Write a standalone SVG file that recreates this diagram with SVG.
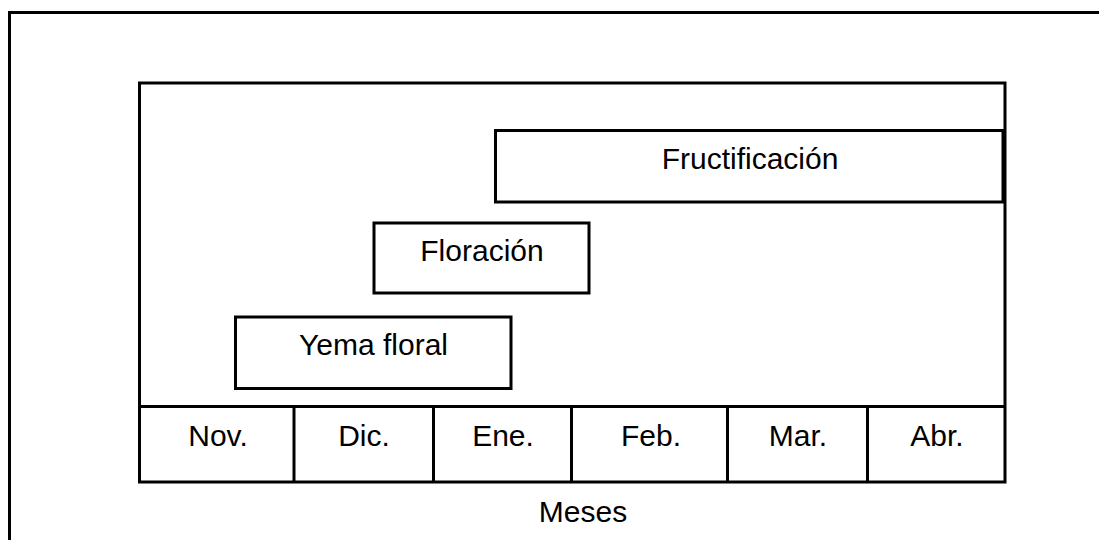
<svg xmlns="http://www.w3.org/2000/svg" width="1099" height="540" viewBox="0 0 1099 540">
<style>
.ln{fill:none;stroke:#000;stroke-width:3}
.bx{fill:#fff;stroke:#000;stroke-width:3}
.t{font-family:"Liberation Sans",Arial,sans-serif;font-size:30px;fill:#000;text-anchor:middle}
</style>
<rect width="1099" height="540" fill="#fff"/>
<g id="frame">
<polyline class="ln" points="9.5,540 9.5,12.5 1099,12.5"/>
<rect class="ln" x="139.5" y="83" width="865.5" height="399"/>
</g>
<g id="months">
<line class="ln" x1="139.5" y1="406.5" x2="1005" y2="406.5"/>
<line class="ln" x1="294" y1="406.5" x2="294" y2="482"/>
<line class="ln" x1="433.5" y1="406.5" x2="433.5" y2="482"/>
<line class="ln" x1="571.5" y1="406.5" x2="571.5" y2="482"/>
<line class="ln" x1="727.5" y1="406.5" x2="727.5" y2="482"/>
<line class="ln" x1="867.5" y1="406.5" x2="867.5" y2="482"/>
<text class="t" x="218" y="446">Nov.</text>
<text class="t" x="364" y="446">Dic.</text>
<text class="t" x="503" y="446">Ene.</text>
<text class="t" x="651" y="446">Feb.</text>
<text class="t" x="798" y="446">Mar.</text>
<text class="t" x="937" y="446">Abr.</text>
<text class="t" x="583" y="522">Meses</text>
</g>
<g id="fructificacion">
<rect class="bx" x="495.5" y="130.5" width="507.5" height="71.5"/>
<text class="t" x="750" y="168.5">Fructificación</text>
</g>
<g id="floracion">
<rect class="bx" x="374" y="223" width="215" height="70"/>
<text class="t" x="482" y="261">Floración</text>
</g>
<g id="yema">
<rect class="bx" x="235.5" y="317" width="275.5" height="71.5"/>
<text class="t" x="373.5" y="355">Yema floral</text>
</g>
<g id="connectors"/>
</svg>
